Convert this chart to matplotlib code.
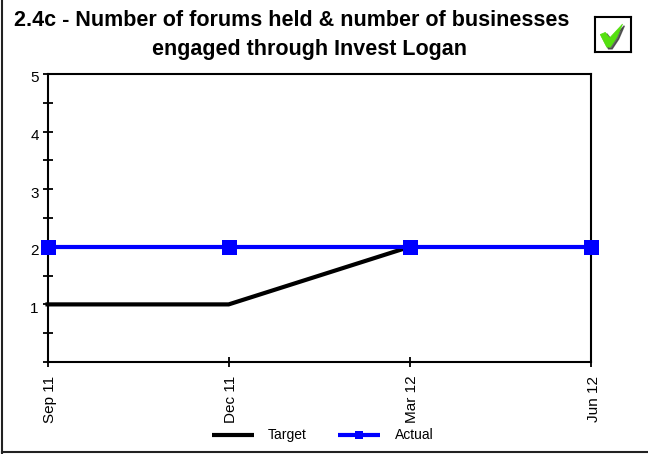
import numpy as np
import matplotlib
matplotlib.use('Agg')
import matplotlib.pyplot as plt
from matplotlib.patches import Polygon
from matplotlib.transforms import ScaledTranslation

plt.rcParams['font.family'] = ['Liberation Sans', 'DejaVu Sans']

quarters = ['Sep 11', 'Dec 11', 'Mar 12', 'Jun 12']
target = [1, 1, 2, None]
actual = [2, 2, 2, 2]
major_ticks = [1, 2, 3, 4, 5]
minor_ticks = [0, 0.5, 1.5, 2.5, 3.5, 4.5]

W, H = 648, 454
fig = plt.figure(figsize=(W / 100, H / 100), dpi=100)

# page frame, only left and bottom edges are drawn
fig.add_artist(plt.Line2D([1.5 / W, 1.5 / W], [1, 1.5 / H], color='#222222', lw=1.5))
fig.add_artist(plt.Line2D([1.5 / W, 1], [2.5 / H, 2.5 / H], color='#222222', lw=1.5))

ax = fig.add_axes([47.5 / W, 1 - 362 / H, (591 - 47.5) / W, (362 - 74) / H])
x = np.arange(len(quarters))
t = np.array([np.nan if v is None else v for v in target], dtype=float)

ax.plot(x, t, color='black', lw=3, solid_joinstyle='miter', clip_on=False, zorder=3)
ax.plot(x, actual, color='#0000ff', lw=3, marker='s', ms=10.8, mew=0, clip_on=False, zorder=4)

ax.set_xlim(0, 3)
ax.set_ylim(0, 5)
ax.set_xticks(x)
ax.set_xticklabels(quarters, rotation=90, fontsize=11)
ax.set_yticks(major_ticks)
ax.set_yticks(minor_ticks, minor=True)
ax.tick_params(axis='y', which='both', direction='inout', length=6.5, width=1.3, labelsize=11, pad=3)
ax.tick_params(axis='x', direction='inout', length=7.5, width=1.3, pad=6)
for s in ax.spines.values():
    s.set_linewidth(1.5)

# axis labels sit slightly off their ticks
for lab in ax.get_xticklabels():
    lab.set_transform(lab.get_transform() + ScaledTranslation(2.5 / 100, 0, fig.dpi_scale_trans))
for lab in ax.get_yticklabels():
    lab.set_transform(lab.get_transform() + ScaledTranslation(0, -3 / 100, fig.dpi_scale_trans))

fig.text(292 / W, 1 - 20.5 / H, '2.4c - Number of forums held & number of businesses', ha='center', va='center',
         fontsize=15.5, fontweight='bold')
fig.text(310 / W, 1 - 49.5 / H, 'engaged through Invest Logan', ha='center', va='center',
         fontsize=15.5, fontweight='bold')

# legend
key_y = 1 - 435 / H
fig.add_artist(plt.Line2D([212 / W, 254 / W], [key_y, key_y], color='black', lw=3, solid_capstyle='butt'))
fig.add_artist(plt.Line2D([338 / W, 380 / W], [key_y, key_y], color='#0000ff', lw=3, solid_capstyle='butt'))
fig.add_artist(plt.Line2D([359 / W], [key_y], color='#0000ff', marker='s', ms=6.3, mew=0))
fig.text(268 / W, key_y, 'Target', va='center', fontsize=10)
fig.text(395 / W, key_y, 'Actual', va='center', fontsize=10)

# tick box in the corner
box = fig.add_axes([594.5 / W, 1 - 52 / H, 36 / W, 35 / H])
box.set_xlim(0, 1)
box.set_ylim(0, 1)
box.set_xticks([])
box.set_yticks([])
for s in box.spines.values():
    s.set_linewidth(1.5)
check = np.array([[0.16, 0.5], [0.3, 0.56], [0.42, 0.4], [0.78, 0.8], [0.62, 0.42], [0.44, 0.14], [0.34, 0.14]])
box.add_patch(Polygon(check + [0.05, -0.05], color='#333333', alpha=0.75, lw=1))
box.add_patch(Polygon(check, color='#55e010', lw=0.5))

fig.savefig('out.png', dpi=100)
